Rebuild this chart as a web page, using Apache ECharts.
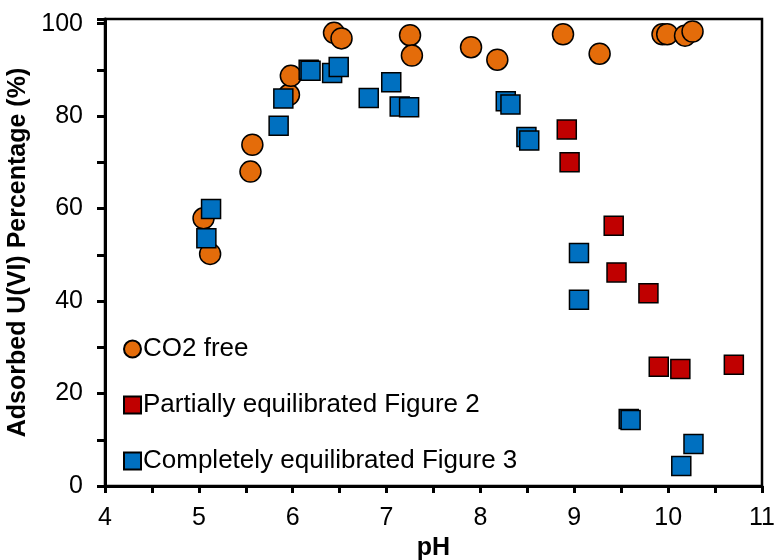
<!DOCTYPE html>
<html>
<head>
<meta charset="utf-8">
<script src="https://cdn.jsdelivr.net/npm/echarts@6/dist/echarts.min.js"></script>
<style>
html,body{margin:0;padding:0;background:#fff;}
#chart{width:776px;height:560px;}
</style>
</head>
<body>
<div id="chart"></div>
<script>
// Data
const seriesNames = ['CO2 free', 'Partially equilibrated Figure 2', 'Completely equilibrated Figure 3'];

const co2FreePH  = [5.05, 5.12, 5.55, 5.57, 5.96, 5.98, 6.44, 6.52, 7.25, 7.27, 7.90, 8.18, 8.88, 9.27, 9.94, 9.99, 10.18, 10.26];
const co2FreePct = [57.9, 50.2, 68.0, 73.8, 84.6, 88.7, 98.0, 96.8, 97.5, 93.1, 94.9, 92.2, 97.7, 93.5, 97.7, 97.7, 97.4, 98.3];

const partialPH  = [8.92, 8.95, 9.42, 9.45, 9.79, 9.90, 10.13, 10.70];
const partialPct = [77.1, 70.0, 56.3, 46.2, 41.7, 25.8, 25.3, 26.2];

const completePH  = [5.13, 5.08, 5.85, 5.90, 6.17, 6.19, 6.42, 6.49, 6.81, 7.05, 7.14, 7.24, 8.27, 8.32, 8.49, 8.52, 9.05, 9.05, 9.58, 9.60, 10.27, 10.14];
const completePct = [59.9, 53.6, 77.9, 83.8, 90.0, 89.8, 89.3, 90.6, 83.9, 87.3, 82.1, 81.9, 83.2, 82.5, 75.5, 74.7, 50.4, 40.3, 14.5, 14.3, 9.1, 4.3];

const xTicks = [4, 5, 6, 7, 8, 9, 10, 11];
const yTicks = [0, 20, 40, 60, 80, 100];

function pairs(xs, ys) { return xs.map((x, i) => [x, ys[i]]); }

const FONT = 'Liberation Sans, Arial, sans-serif';
const chart = echarts.init(document.getElementById('chart'), null, {renderer: 'canvas'});

chart.setOption({
  animation: false,
  backgroundColor: '#ffffff',
  grid: {left: 105, right: 14, top: 19, bottom: 74, outerBoundsMode: 'none', containLabel: false,
         show: true, borderColor: '#000', borderWidth: 2.5, backgroundColor: 'transparent'},
  legend: {
    orient: 'vertical',
    left: 118,
    top: 331,
    itemWidth: 17,
    itemHeight: 17,
    itemGap: 30,
    data: seriesNames,
    textStyle: {fontFamily: FONT, fontSize: 26, color: '#000', lineHeight: 26, padding: [0, 0, 0, -3]},
    selectedMode: false
  },
  xAxis: {
    type: 'value',
    min: 4, max: 11, interval: 0.5,
    name: 'pH',
    nameLocation: 'middle',
    nameGap: 47,
    nameTextStyle: {fontFamily: FONT, fontSize: 25, fontWeight: 'bold', color: '#000'},
    axisLine: {show: true, onZero: false, lineStyle: {color: '#000', width: 3}},
    axisTick: {show: true, inside: false, length: 7, lineStyle: {color: '#000', width: 3}},
    axisLabel: {
      fontFamily: FONT, fontSize: 25, color: '#000', margin: 20,
      formatter: v => xTicks.includes(Math.round(v * 100) / 100) && Number.isInteger(v) ? String(v) : ''
    },
    splitLine: {show: false}
  },
  yAxis: {
    type: 'value',
    min: 0, max: 101, interval: 10,
    name: 'Adsorbed U(VI) Percentage (%)',
    nameLocation: 'middle',
    nameRotate: 90,
    nameGap: 66,
    nameTextStyle: {fontFamily: FONT, fontSize: 25, fontWeight: 'bold', color: '#000'},
    axisLine: {show: true, onZero: false, lineStyle: {color: '#000', width: 3}},
    axisTick: {show: true, inside: false, length: 8, lineStyle: {color: '#000', width: 3}},
    axisLabel: {
      fontFamily: FONT, fontSize: 25, color: '#000', margin: 22,
      formatter: v => yTicks.includes(v) ? String(v) : ''
    },
    splitLine: {show: false}
  },
  series: [
    {
      name: seriesNames[0], type: 'scatter', symbol: 'circle', symbolSize: 21,
      itemStyle: {color: '#E46C0A', borderColor: '#000', borderWidth: 1.5, opacity: 1},
      data: pairs(co2FreePH, co2FreePct), z: 2
    },
    {
      name: seriesNames[1], type: 'scatter', symbol: 'rect', symbolSize: 19,
      itemStyle: {color: '#C00000', borderColor: '#000', borderWidth: 1.5, opacity: 1},
      data: pairs(partialPH, partialPct), z: 3
    },
    {
      name: seriesNames[2], type: 'scatter', symbol: 'rect', symbolSize: 19,
      itemStyle: {color: '#0070C0', borderColor: '#000', borderWidth: 1.5, opacity: 1},
      data: pairs(completePH, completePct), z: 4
    }
  ]
});
</script>
</body>
</html>
